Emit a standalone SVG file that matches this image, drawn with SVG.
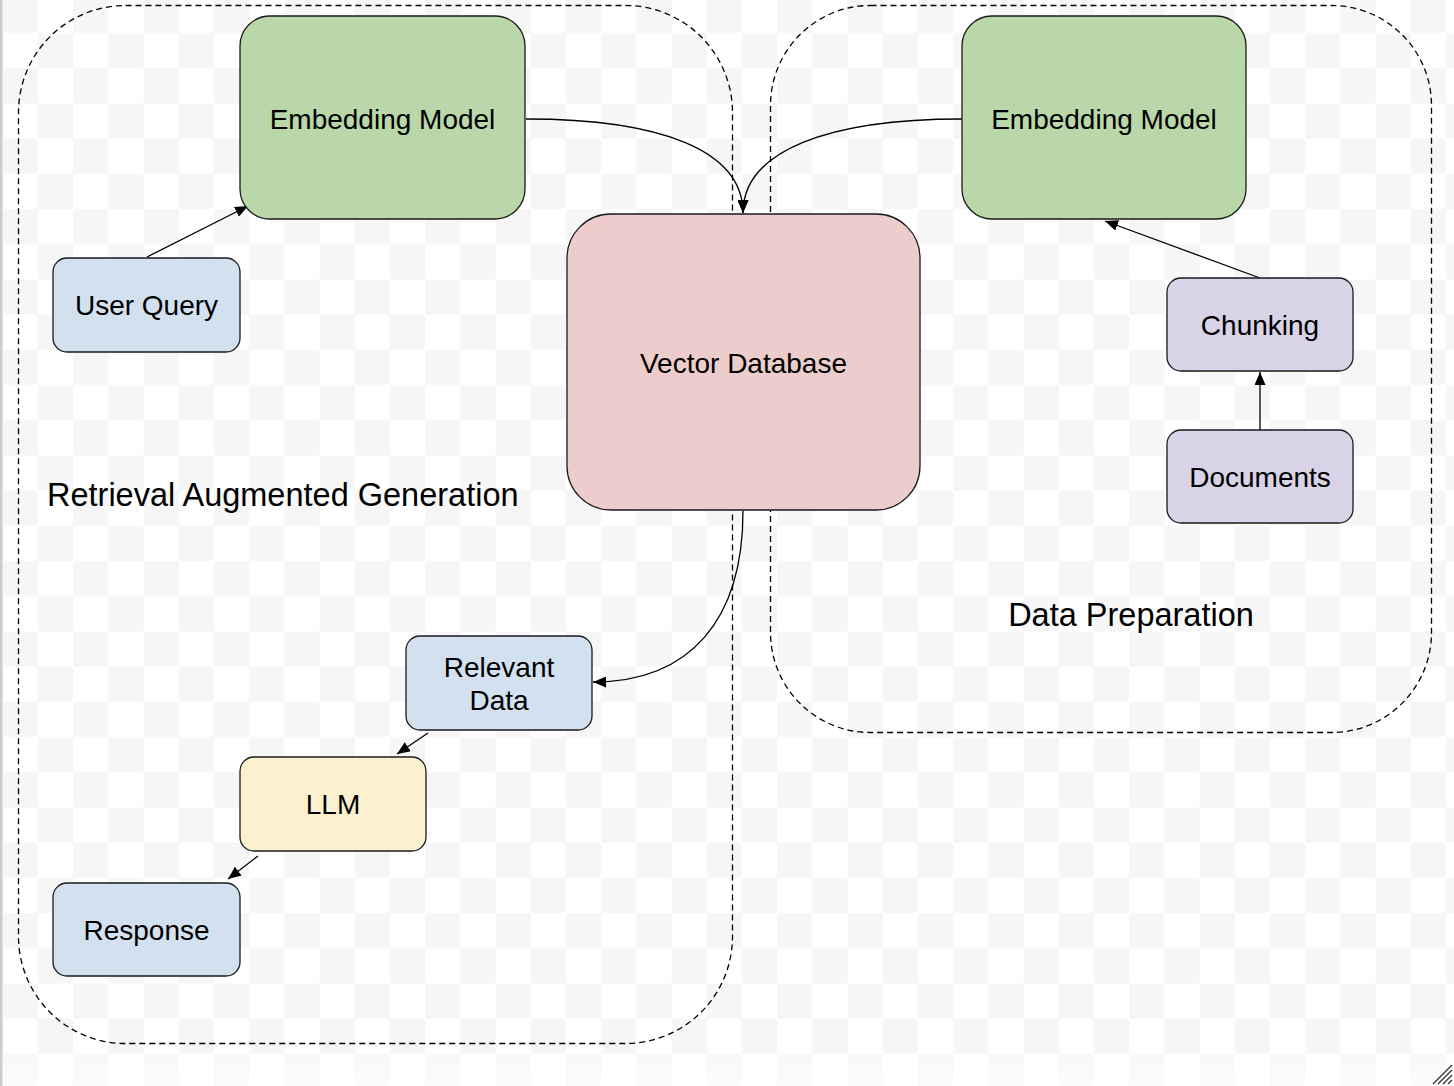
<svg xmlns="http://www.w3.org/2000/svg" width="1454" height="1086" viewBox="0 0 1454 1086">
<defs>
<pattern id="checker" x="2.8" y="-2.2" width="70.4" height="70.4" patternUnits="userSpaceOnUse">
<rect width="70.4" height="70.4" fill="#ffffff"/>
<rect x="0" y="0" width="35.2" height="35.2" fill="#f6f6f6"/>
<rect x="35.2" y="35.2" width="35.2" height="35.2" fill="#f6f6f6"/>
</pattern>
<linearGradient id="fade" x1="0" y1="0" x2="0" y2="1">
<stop offset="0" stop-color="#ffffff" stop-opacity="0.2"/>
<stop offset="1" stop-color="#ffffff" stop-opacity="0.6"/>
</linearGradient>
<marker id="arrow" viewBox="0 0 13 11" refX="13" refY="5.5" markerWidth="13" markerHeight="11" markerUnits="userSpaceOnUse" orient="auto">
<path d="M0,0 L13,5.5 L0,11 z" fill="#000"/>
</marker>
<style>
.container{fill:none;stroke:#000;stroke-width:1.3;stroke-dasharray:6 4}
.node{stroke:#1a1a1a;stroke-width:1.3}
.green{fill:#b9d7a8}
.pink{fill:#eccdcc}
.blue{fill:#d3e0f0}
.yellow{fill:#fcf1cf}
.purple{fill:#d9d3e8}
.label{font-family:"Liberation Sans",Arial,sans-serif;font-size:28px;fill:#000;text-anchor:middle}
.title{font-family:"Liberation Sans",Arial,sans-serif;font-size:32.5px;fill:#000}
.edge{fill:none;stroke:#000;stroke-width:1.3;marker-end:url(#arrow)}
</style>
</defs>
<g id="background">
<rect x="0" y="0" width="1454" height="1086" fill="url(#checker)"/>
<rect x="0" y="1053" width="1454" height="33" fill="url(#fade)"/>
<rect x="0" y="0" width="2.5" height="1086" fill="#cccccc"/>
<g stroke="#333" stroke-width="1.2">
<line x1="1433" y1="1084" x2="1452" y2="1065"/>
<line x1="1438" y1="1084" x2="1452" y2="1070"/>
<line x1="1443" y1="1084" x2="1452" y2="1075"/>
<line x1="1448" y1="1084" x2="1452" y2="1080"/>
</g>
</g>
<g id="container-rag">
<rect class="container" x="18.5" y="5.5" width="714" height="1038" rx="107" ry="107"/>
<text class="title" x="47" y="506">Retrieval Augmented Generation</text>
</g>
<g id="container-prep">
<rect class="container" x="770.5" y="5.5" width="661" height="727" rx="100" ry="100"/>
<text class="title" x="1131" y="626" text-anchor="middle">Data Preparation</text>
</g>
<g id="connectors">
<path class="edge" d="M147,257 L248,206"/>
<path class="edge" d="M526,119 C660,119 743,150 743,213"/>
<path class="edge" d="M962,119 C830,119 743,150 743,213"/>
<path class="edge" d="M743,511 C743,620 690,682 593,682"/>
<path class="edge" d="M428,733 L397,754"/>
<path class="edge" d="M258,856 L228,879"/>
<path class="edge" d="M1260,278 L1105,221"/>
<path class="edge" d="M1260,430 L1260,372"/>
</g>
<g id="node-embedding-left">
<rect class="node green" x="240" y="16" width="285" height="203" rx="30" ry="30"/>
<text class="label" x="382.5" y="129">Embedding Model</text>
</g>
<g id="node-embedding-right">
<rect class="node green" x="962" y="16" width="284" height="203" rx="30" ry="30"/>
<text class="label" x="1104" y="129">Embedding Model</text>
</g>
<g id="node-vector-db">
<rect class="node pink" x="567" y="214" width="353" height="296" rx="44" ry="44"/>
<text class="label" x="743.5" y="373">Vector Database</text>
</g>
<g id="node-user-query">
<rect class="node blue" x="53" y="258" width="187" height="94" rx="14" ry="14"/>
<text class="label" x="146.5" y="315">User Query</text>
</g>
<g id="node-chunking">
<rect class="node purple" x="1167" y="278" width="186" height="93" rx="14" ry="14"/>
<text class="label" x="1260" y="335">Chunking</text>
</g>
<g id="node-documents">
<rect class="node purple" x="1167" y="430" width="186" height="93" rx="14" ry="14"/>
<text class="label" x="1260" y="487">Documents</text>
</g>
<g id="node-relevant-data">
<rect class="node blue" x="406" y="636" width="186" height="94" rx="14" ry="14"/>
<text class="label" x="499" y="677">Relevant</text>
<text class="label" x="499" y="710">Data</text>
</g>
<g id="node-llm">
<rect class="node yellow" x="240" y="757" width="186" height="94" rx="14" ry="14"/>
<text class="label" x="333" y="814">LLM</text>
</g>
<g id="node-response">
<rect class="node blue" x="53" y="883" width="187" height="93" rx="14" ry="14"/>
<text class="label" x="146.5" y="940">Response</text>
</g>
</svg>
